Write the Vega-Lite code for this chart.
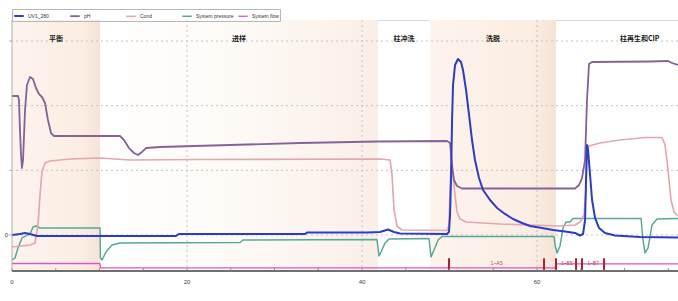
{
"$schema": "https://vega.github.io/schema/vega-lite/v6.json",
"width": 666, "height": 251,
"autosize": {"type": "none"},
"padding": {"left": 12, "top": 20, "right": 0, "bottom": 30},
"config": {"view": {"stroke": "#d8d8d8", "strokeWidth": 1}},
"datasets": {
"phases": [
{"phase": "平衡", "start": 0, "end": 10.06, "shade": "a"},
{"phase": "进样", "start": 10.06, "end": 41.83, "shade": "b"},
{"phase": "柱冲洗", "start": 41.83, "end": 47.77, "shade": "none"},
{"phase": "洗脱", "start": 47.77, "end": 62.17, "shade": "a"},
{"phase": "柱再生和CIP", "start": 62.17, "end": 81.3, "shade": "none"}
],
"xticks": [{"t":0},{"t":5},{"t":10},{"t":15},{"t":20},{"t":25},{"t":30},{"t":35},{"t":40},{"t":45},{"t":50},{"t":55},{"t":60},{"t":65},{"t":70},{"t":75}],
"yticks": [{"v":0},{"v":1},{"v":2},{"v":3}],
"fracs": [{"t": 49.94}, {"t": 60.8}, {"t": 62.17}, {"t": 64.46}, {"t": 65.14}, {"t": 67.66}],
"fraclabels": [{"t": 55.4, "label": "1~A5"}, {"t": 63.4, "label": "1~B5"}, {"t": 66.4, "label": "1~B7"}],
"series": [
{"s":"System flow","t":0,"v":-0.441},{"s":"System flow","t":10.06,"v":-0.441},{"s":"System flow","t":10.11,"v":-0.51},{"s":"System flow","t":62.06,"v":-0.51},{"s":"System flow","t":62.17,"v":-0.448},{"s":"System flow","t":76.11,"v":-0.448},
{"s":"System pressure","t":0,"v":-0.387},{"s":"System pressure","t":0.34,"v":-0.356},{"s":"System pressure","t":0.69,"v":-0.201},{"s":"System pressure","t":1.14,"v":-0.046},{"s":"System pressure","t":1.6,"v":-0.015},{"s":"System pressure","t":2.06,"v":0.015},{"s":"System pressure","t":2.4,"v":0.124},{"s":"System pressure","t":2.74,"v":0.139},{"s":"System pressure","t":3.2,"v":0.108},{"s":"System pressure","t":10.06,"v":0.108},{"s":"System pressure","t":10.11,"v":-0.356},{"s":"System pressure","t":10.29,"v":-0.387},{"s":"System pressure","t":10.74,"v":-0.263},{"s":"System pressure","t":11.43,"v":-0.155},{"s":"System pressure","t":12.34,"v":-0.124},{"s":"System pressure","t":26.06,"v":-0.116},{"s":"System pressure","t":26.4,"v":-0.077},{"s":"System pressure","t":41.71,"v":-0.07},{"s":"System pressure","t":41.83,"v":-0.201},{"s":"System pressure","t":41.94,"v":-0.325},{"s":"System pressure","t":42.17,"v":-0.263},{"s":"System pressure","t":42.63,"v":-0.124},{"s":"System pressure","t":43.09,"v":-0.062},{"s":"System pressure","t":47.66,"v":-0.054},{"s":"System pressure","t":47.77,"v":-0.201},{"s":"System pressure","t":47.89,"v":-0.34},{"s":"System pressure","t":48.23,"v":-0.232},{"s":"System pressure","t":48.69,"v":-0.077},{"s":"System pressure","t":49.14,"v":-0.023},{"s":"System pressure","t":61.94,"v":-0.023},{"s":"System pressure","t":62.06,"v":-0.155},{"s":"System pressure","t":62.29,"v":-0.278},{"s":"System pressure","t":62.63,"v":-0.17},{"s":"System pressure","t":62.97,"v":0.108},{"s":"System pressure","t":63.31,"v":0.201},{"s":"System pressure","t":63.77,"v":0.201},{"s":"System pressure","t":64.11,"v":0.255},{"s":"System pressure","t":71.89,"v":0.255},{"s":"System pressure","t":72.11,"v":-0.077},{"s":"System pressure","t":72.34,"v":-0.278},{"s":"System pressure","t":72.69,"v":-0.201},{"s":"System pressure","t":73.14,"v":0.155},{"s":"System pressure","t":73.71,"v":0.247},{"s":"System pressure","t":76.11,"v":0.255},
{"s":"Cond","t":0,"v":-0.186},{"s":"Cond","t":2.06,"v":-0.155},{"s":"Cond","t":2.63,"v":-0.124},{"s":"Cond","t":2.97,"v":0.155},{"s":"Cond","t":3.2,"v":0.619},{"s":"Cond","t":3.43,"v":0.974},{"s":"Cond","t":3.77,"v":1.113},{"s":"Cond","t":4.34,"v":1.144},{"s":"Cond","t":6.63,"v":1.175},{"s":"Cond","t":10.06,"v":1.191},{"s":"Cond","t":13.49,"v":1.16},{"s":"Cond","t":21.49,"v":1.167},{"s":"Cond","t":42.06,"v":1.175},{"s":"Cond","t":43.2,"v":1.16},{"s":"Cond","t":43.43,"v":0.928},{"s":"Cond","t":43.66,"v":0.387},{"s":"Cond","t":44.0,"v":0.139},{"s":"Cond","t":44.57,"v":0.077},{"s":"Cond","t":49.71,"v":0.07},{"s":"Cond","t":49.94,"v":0.155},{"s":"Cond","t":50.06,"v":0.696},{"s":"Cond","t":50.17,"v":1.082},{"s":"Cond","t":50.4,"v":0.928},{"s":"Cond","t":50.63,"v":0.619},{"s":"Cond","t":50.86,"v":0.356},{"s":"Cond","t":51.2,"v":0.247},{"s":"Cond","t":51.89,"v":0.201},{"s":"Cond","t":55.77,"v":0.17},{"s":"Cond","t":62.63,"v":0.139},{"s":"Cond","t":64.34,"v":0.155},{"s":"Cond","t":64.91,"v":0.201},{"s":"Cond","t":65.37,"v":0.309},{"s":"Cond","t":65.6,"v":0.696},{"s":"Cond","t":65.71,"v":1.314},{"s":"Cond","t":65.94,"v":1.376},{"s":"Cond","t":67.2,"v":1.423},{"s":"Cond","t":69.49,"v":1.469},{"s":"Cond","t":72.34,"v":1.508},{"s":"Cond","t":74.29,"v":1.508},{"s":"Cond","t":74.63,"v":1.392},{"s":"Cond","t":74.97,"v":1.005},{"s":"Cond","t":75.31,"v":0.541},{"s":"Cond","t":75.66,"v":0.356},{"s":"Cond","t":76.11,"v":0.294},
{"s":"pH","t":0,"v":2.149},{"s":"pH","t":0.69,"v":2.149},{"s":"pH","t":0.8,"v":2.088},{"s":"pH","t":0.91,"v":1.624},{"s":"pH","t":1.03,"v":1.237},{"s":"pH","t":1.14,"v":1.036},{"s":"pH","t":1.26,"v":1.16},{"s":"pH","t":1.49,"v":1.933},{"s":"pH","t":1.71,"v":2.32},{"s":"pH","t":2.06,"v":2.443},{"s":"pH","t":2.4,"v":2.412},{"s":"pH","t":2.74,"v":2.273},{"s":"pH","t":3.09,"v":2.18},{"s":"pH","t":3.43,"v":2.134},{"s":"pH","t":3.77,"v":2.041},{"s":"pH","t":4.11,"v":1.778},{"s":"pH","t":4.46,"v":1.577},{"s":"pH","t":4.8,"v":1.531},{"s":"pH","t":12.34,"v":1.531},{"s":"pH","t":12.8,"v":1.469},{"s":"pH","t":13.37,"v":1.345},{"s":"pH","t":13.94,"v":1.268},{"s":"pH","t":14.4,"v":1.237},{"s":"pH","t":14.86,"v":1.284},{"s":"pH","t":15.31,"v":1.345},{"s":"pH","t":16.91,"v":1.361},{"s":"pH","t":24.91,"v":1.392},{"s":"pH","t":32.91,"v":1.423},{"s":"pH","t":41.83,"v":1.446},{"s":"pH","t":49.71,"v":1.454},{"s":"pH","t":50.06,"v":1.423},{"s":"pH","t":50.29,"v":1.082},{"s":"pH","t":50.51,"v":0.85},{"s":"pH","t":50.86,"v":0.758},{"s":"pH","t":51.43,"v":0.719},{"s":"pH","t":64.34,"v":0.719},{"s":"pH","t":64.8,"v":0.773},{"s":"pH","t":65.14,"v":0.881},{"s":"pH","t":65.49,"v":1.16},{"s":"pH","t":65.71,"v":2.088},{"s":"pH","t":65.94,"v":2.644},{"s":"pH","t":66.29,"v":2.675},{"s":"pH","t":72.91,"v":2.683},{"s":"pH","t":74.97,"v":2.691},{"s":"pH","t":75.43,"v":2.66},{"s":"pH","t":76.11,"v":2.629},
{"s":"UV1_280","t":0,"v":0},{"s":"UV1_280","t":0.91,"v":0.015},{"s":"UV1_280","t":1.49,"v":0.031},{"s":"UV1_280","t":2.06,"v":0.015},{"s":"UV1_280","t":2.86,"v":-0.015},{"s":"UV1_280","t":18.74,"v":-0.015},{"s":"UV1_280","t":19.09,"v":0.015},{"s":"UV1_280","t":33.49,"v":0.015},{"s":"UV1_280","t":33.71,"v":0.039},{"s":"UV1_280","t":40.57,"v":0.039},{"s":"UV1_280","t":42.06,"v":0.046},{"s":"UV1_280","t":42.97,"v":0.085},{"s":"UV1_280","t":43.66,"v":0.046},{"s":"UV1_280","t":44.34,"v":0.023},{"s":"UV1_280","t":49.71,"v":0.015},{"s":"UV1_280","t":49.94,"v":0.046},{"s":"UV1_280","t":50.06,"v":0.309},{"s":"UV1_280","t":50.17,"v":0.85},{"s":"UV1_280","t":50.29,"v":1.778},{"s":"UV1_280","t":50.4,"v":2.32},{"s":"UV1_280","t":50.63,"v":2.629},{"s":"UV1_280","t":50.97,"v":2.722},{"s":"UV1_280","t":51.31,"v":2.675},{"s":"UV1_280","t":51.54,"v":2.552},{"s":"UV1_280","t":51.89,"v":2.242},{"s":"UV1_280","t":52.23,"v":1.856},{"s":"UV1_280","t":52.57,"v":1.469},{"s":"UV1_280","t":52.91,"v":1.16},{"s":"UV1_280","t":53.37,"v":0.881},{"s":"UV1_280","t":53.83,"v":0.696},{"s":"UV1_280","t":54.63,"v":0.541},{"s":"UV1_280","t":55.43,"v":0.418},{"s":"UV1_280","t":56.34,"v":0.325},{"s":"UV1_280","t":57.26,"v":0.247},{"s":"UV1_280","t":58.29,"v":0.186},{"s":"UV1_280","t":59.2,"v":0.139},{"s":"UV1_280","t":60.57,"v":0.108},{"s":"UV1_280","t":61.83,"v":0.077},{"s":"UV1_280","t":63.2,"v":0.054},{"s":"UV1_280","t":64.34,"v":0.031},{"s":"UV1_280","t":64.91,"v":-0.008},{"s":"UV1_280","t":65.26,"v":0.015},{"s":"UV1_280","t":65.49,"v":0.232},{"s":"UV1_280","t":65.6,"v":0.85},{"s":"UV1_280","t":65.71,"v":1.392},{"s":"UV1_280","t":65.83,"v":1.314},{"s":"UV1_280","t":66.06,"v":0.928},{"s":"UV1_280","t":66.29,"v":0.541},{"s":"UV1_280","t":66.63,"v":0.263},{"s":"UV1_280","t":67.09,"v":0.108},{"s":"UV1_280","t":67.77,"v":0.031},{"s":"UV1_280","t":68.91,"v":-0.008},{"s":"UV1_280","t":71.77,"v":-0.031},{"s":"UV1_280","t":76.11,"v":-0.039}
]
},
"layer": [
{
"data": {"name": "phases"},
"transform": [{"filter": "datum.shade == 'a'"}],
"mark": {"type": "rect", "clip": true, "color": {"gradient": "linear", "x1": 0, "x2": 1, "y1": 0, "y2": 0, "stops": [{"offset": 0, "color": "#fdf4ed"}, {"offset": 0.8, "color": "#fbede3"}, {"offset": 1, "color": "#f6e3d6"}]}},
"encoding": {
"x": {"field": "start", "type": "quantitative", "scale": {"domain": [0, 76.11], "nice": false, "zero": false}, "axis": null},
"x2": {"field": "end"}
}
},
{
"data": {"name": "phases"},
"transform": [{"filter": "datum.shade == 'b'"}],
"mark": {"type": "rect", "clip": true, "color": {"gradient": "linear", "x1": 0, "x2": 1, "y1": 0, "y2": 0, "stops": [{"offset": 0, "color": "#ffffff"}, {"offset": 0.5, "color": "#fefaf6"}, {"offset": 1, "color": "#faefe6"}]}},
"encoding": {
"x": {"field": "start", "type": "quantitative", "scale": {"domain": [0, 76.11], "nice": false, "zero": false}, "axis": null},
"x2": {"field": "end"}
}
},
{
"data": {"name": "yticks"},
"mark": {"type": "rule", "strokeDash": [2, 3], "color": "#c4c4c4", "strokeWidth": 1},
"encoding": {
"y": {"field": "v", "type": "quantitative", "scale": {"domain": [-0.557, 3.325], "nice": false, "zero": false}, "axis": null}
}
},
{
"data": {"name": "xticks"},
"transform": [{"filter": "datum.t % 20 == 0 && datum.t > 0"}],
"mark": {"type": "rule", "strokeDash": [2, 3], "color": "#c4c4c4", "strokeWidth": 1},
"encoding": {
"x": {"field": "t", "type": "quantitative", "scale": {"domain": [0, 76.11], "nice": false, "zero": false}, "axis": null}
}
},
{
"data": {"name": "phases"},
"transform": [{"calculate": "(datum.start + datum.end) / 2", "as": "mid"}],
"mark": {"type": "text", "font": "Noto Sans CJK SC", "fontWeight": "bold", "fontSize": 7, "color": "#1a1a1a", "baseline": "middle", "align": "center"},
"encoding": {
"x": {"field": "mid", "type": "quantitative", "scale": {"domain": [0, 76.11], "nice": false, "zero": false}, "axis": null},
"y": {"datum": 3.03, "type": "quantitative", "scale": {"domain": [-0.557, 3.325], "nice": false, "zero": false}, "axis": null},
"text": {"field": "phase"}
}
},
{
"data": {"name": "series"},
"mark": {"type": "line", "strokeJoin": "round", "clip": true},
"encoding": {
"x": {"field": "t", "type": "quantitative", "scale": {"domain": [0, 76.11], "nice": false, "zero": false}, "axis": null},
"y": {"field": "v", "type": "quantitative", "scale": {"domain": [-0.557, 3.325], "nice": false, "zero": false}, "axis": null},
"color": {"field": "s", "type": "nominal",
 "scale": {"domain": ["UV1_280", "pH", "Cond", "System pressure", "System flow"], "range": ["#2b3bcc", "#86629a", "#e2a8ae", "#55a89a", "#d858c8"]},
 "legend": {"title": null, "orient": "none", "legendX": 0, "legendY": -11, "direction": "horizontal", "columns": 5, "gridAlign": "all", "columnPadding": 0, "padding": 1, "strokeColor": "#b8b8b8", "labelFontSize": 5, "labelFont": "Liberation Sans", "labelColor": "#333", "labelOffset": 3, "symbolType": "stroke", "symbolSize": 90, "symbolStrokeWidth": 2, "rowPadding": 0}},
"strokeWidth": {"field": "s", "type": "nominal", "scale": {"domain": ["UV1_280", "pH", "Cond", "System pressure", "System flow"], "range": [2.0, 1.3, 1.1, 1.1, 1.2]}, "legend": null}
}
},
{
"data": {"name": "fracs"},
"mark": {"type": "rule", "color": "#b0202a", "strokeWidth": 2},
"encoding": {
"x": {"field": "t", "type": "quantitative", "scale": {"domain": [0, 76.11], "nice": false, "zero": false}, "axis": null},
"y": {"datum": -0.36, "type": "quantitative", "scale": {"domain": [-0.557, 3.325], "nice": false, "zero": false}, "axis": null},
"y2": {"datum": -0.54}
}
},
{
"data": {"name": "fraclabels"},
"mark": {"type": "text", "fontSize": 5, "font": "Liberation Sans", "color": "#d04050", "align": "center", "baseline": "middle"},
"encoding": {
"x": {"field": "t", "type": "quantitative", "scale": {"domain": [0, 76.11], "nice": false, "zero": false}, "axis": null},
"y": {"datum": -0.43, "type": "quantitative", "scale": {"domain": [-0.557, 3.325], "nice": false, "zero": false}, "axis": null},
"text": {"field": "label"}
}
},
{
"data": {"name": "xticks"},
"mark": {"type": "rule", "color": "#888", "strokeWidth": 1},
"encoding": {
"x": {"field": "t", "type": "quantitative", "scale": {"domain": [0, 76.11], "nice": false, "zero": false}, "axis": null},
"y": {"datum": -0.557, "type": "quantitative", "scale": {"domain": [-0.557, 3.325], "nice": false, "zero": false}, "axis": null},
"y2": {"datum": -0.515}
}
},
{
"data": {"name": "yticks"},
"mark": {"type": "rule", "color": "#aaa", "strokeWidth": 1},
"encoding": {
"y": {"field": "v", "type": "quantitative", "scale": {"domain": [-0.557, 3.325], "nice": false, "zero": false}, "axis": null},
"x": {"datum": 0, "type": "quantitative", "scale": {"domain": [0, 76.11], "nice": false, "zero": false}, "axis": null},
"x2": {"datum": -0.34}
}
},
{
"data": {"values": [{"d": "left"}]},
"mark": {"type": "rule", "color": "#b0b0b0", "strokeWidth": 1},
"encoding": {
"x": {"datum": 0, "type": "quantitative", "scale": {"domain": [0, 76.11], "nice": false, "zero": false}, "axis": null}
}
},
{
"data": {"values": [{"d": "bottom"}]},
"mark": {"type": "rule", "color": "#707070", "strokeWidth": 2},
"encoding": {
"y": {"datum": -0.557, "type": "quantitative", "scale": {"domain": [-0.557, 3.325], "nice": false, "zero": false}, "axis": null}
}
},
{
"data": {"name": "xticks"},
"transform": [{"filter": "datum.t % 20 == 0"}],
"mark": {"type": "text", "fontSize": 6, "font": "Liberation Sans", "color": "#444", "align": "center", "baseline": "top", "dy": 8},
"encoding": {
"x": {"field": "t", "type": "quantitative", "scale": {"domain": [0, 76.11], "nice": false, "zero": false}, "axis": null},
"y": {"datum": -0.557, "type": "quantitative", "scale": {"domain": [-0.557, 3.325], "nice": false, "zero": false}, "axis": null},
"text": {"field": "t", "type": "quantitative"}
}
},
{
"data": {"name": "yticks"},
"transform": [{"filter": "datum.v == 0"}],
"mark": {"type": "text", "fontSize": 6, "font": "Liberation Sans", "color": "#444", "align": "right", "baseline": "middle", "dx": -4},
"encoding": {
"x": {"datum": 0, "type": "quantitative", "scale": {"domain": [0, 76.11], "nice": false, "zero": false}, "axis": null},
"y": {"field": "v", "type": "quantitative", "scale": {"domain": [-0.557, 3.325], "nice": false, "zero": false}, "axis": null},
"text": {"field": "v", "type": "quantitative"}
}
}
]
}
